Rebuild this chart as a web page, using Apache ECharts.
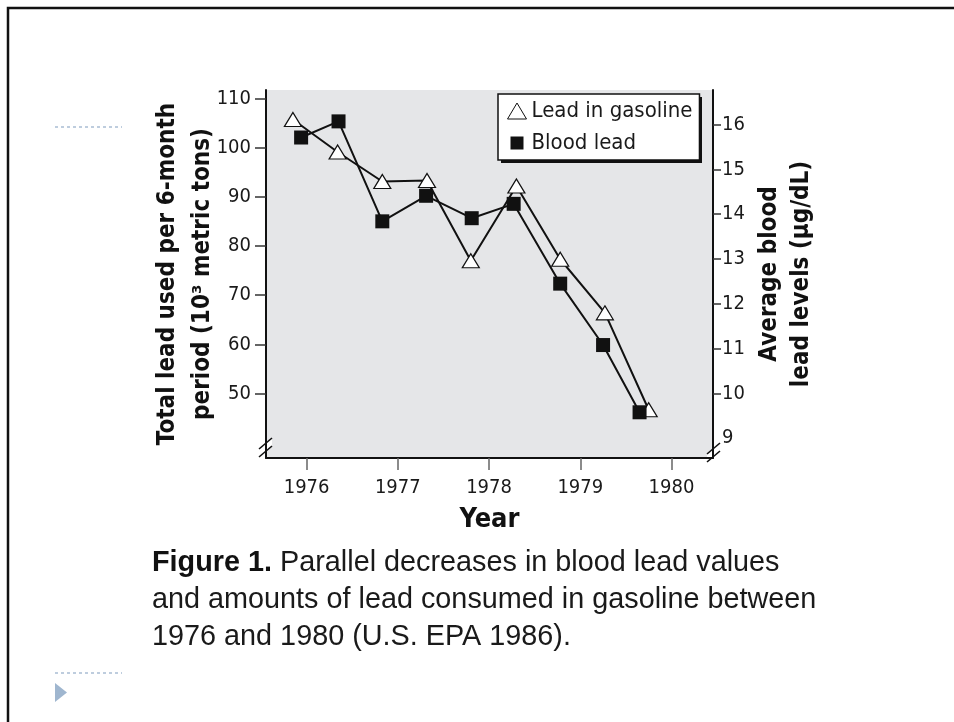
<!DOCTYPE html>
<html>
<head>
<meta charset="utf-8" />
<title>Lead in gasoline vs blood lead</title>
<script src="https://cdn.jsdelivr.net/npm/echarts@6/dist/echarts.min.js"></script>
<style>
  html,
  body {
    margin: 0;
    padding: 0;
    background: #fff;
  }
  #chart01 {
    width: 954px;
    height: 722px;
  }
</style>
</head>
<body>
<div id="chart01"></div>
<script>
// 数据
const gasYears = [1975.85, 1976.34, 1976.83, 1977.32, 1977.8, 1978.3, 1978.78, 1979.27, 1979.75];
const gasolineLead = [105.7, 99.1, 93.1, 93.3, 77.0, 92.2, 77.3, 66.4, 46.7];
const bloodYears = [1975.94, 1976.35, 1976.83, 1977.31, 1977.81, 1978.27, 1978.78, 1979.25, 1979.65];
const bloodLead = [15.71, 16.07, 13.84, 14.41, 13.91, 14.23, 12.45, 11.08, 9.58];
const yearTicks = [1976, 1977, 1978, 1979, 1980];
const leftTicks = [50, 60, 70, 80, 90, 100, 110];
const rightTicks = [10, 11, 12, 13, 14, 15, 16];
const rightLabels = [9, 10, 11, 12, 13, 14, 15, 16];

const narrow = '"DejaVu Sans Condensed", "Liberation Sans", sans-serif';
const regular = '"Liberation Sans", Arial, sans-serif';

// 断轴标记
function breakMark(x, y) {
  return {
    type: "group",
    x: x,
    y: y,
    silent: true,
    z: 10,
    children: [
      {
        type: "polygon",
        shape: { points: [[0, 8], [13, -3], [13, 5], [0, 16]] },
        style: { fill: "#fff" },
      },
      {
        type: "line",
        shape: { x1: 0, y1: 8, x2: 13, y2: -3 },
        style: { stroke: "#111", lineWidth: 1.6 },
      },
      {
        type: "line",
        shape: { x1: 0, y1: 16, x2: 13, y2: 5 },
        style: { stroke: "#111", lineWidth: 1.6 },
      },
    ],
  };
}

function getChartOption() {
  return {
    animation: false,
    textStyle: { fontFamily: narrow, color: "#1a1a1a" },
    grid: {
      left: 266,
      right: 241,
      top: 90,
      bottom: 264,
      show: true,
      backgroundColor: "#e5e6e8",
      borderWidth: 0,
    },
    legend: {
      orient: "vertical",
      left: 498,
      top: 94,
      padding: [6, 7, 6, 9],
      itemGap: 10,
      itemWidth: 19,
      itemHeight: 16,
      backgroundColor: "#fff",
      borderColor: "#111",
      borderWidth: 1.5,
      borderRadius: 0,
      z: 6,
      textStyle: { fontSize: 22, fontFamily: narrow, color: "#1a1a1a" },
      data: [
        { name: "Lead in gasoline", icon: "triangle", itemStyle: { borderWidth: 1 } },
        { name: "Blood lead", icon: "path://M0,0M16,16M1.5,1.5h13v13h-13z" },
      ],
    },
    xAxis: {
      type: "value",
      min: 1975.555,
      max: 1980.455,
      name: "Year",
      nameLocation: "middle",
      nameGap: 48,
      nameMoveOverlap: false,
      nameTextStyle: { fontSize: 27, fontWeight: "bold", fontFamily: narrow, color: "#111" },
      axisLine: { lineStyle: { color: "#111", width: 2 } },
      axisTick: {
        customValues: yearTicks,
        length: 12,
        lineStyle: { color: "#666", width: 1.5 },
      },
      axisLabel: {
        customValues: yearTicks,
        margin: 20,
        fontSize: 20,
        color: "#1a1a1a",
        formatter: (v) => String(v),
      },
      splitLine: { show: false },
    },
    yAxis: [
      {
        type: "value",
        position: "left",
        min: 36.9,
        max: 111.7,
        name: "Total lead used per 6-month\nperiod (10³ metric tons)",
        nameLocation: "middle",
        nameRotate: 90,
        nameGap: 46,
        nameMoveOverlap: false,
        nameTextStyle: {
          fontSize: 24,
          fontWeight: "bold",
          lineHeight: 35,
          fontFamily: narrow,
          color: "#111",
        },
        axisLine: { show: true, lineStyle: { color: "#111", width: 2 } },
        axisTick: {
          show: true,
          customValues: leftTicks,
          length: 11,
          lineStyle: { color: "#333", width: 1.5 },
        },
        axisLabel: {
          customValues: leftTicks,
          margin: 15,
          fontSize: 20,
          color: "#1a1a1a",
        },
        splitLine: { show: false },
      },
      {
        type: "value",
        position: "right",
        min: 8.56,
        max: 16.77,
        name: "Average blood\nlead levels (µg/dL)",
        nameLocation: "middle",
        nameRotate: 90,
        nameGap: 41,
        nameMoveOverlap: false,
        nameTextStyle: {
          fontSize: 24,
          fontWeight: "bold",
          lineHeight: 32,
          fontFamily: narrow,
          color: "#111",
        },
        axisLine: { show: true, lineStyle: { color: "#111", width: 2 } },
        axisTick: {
          show: true,
          customValues: rightTicks,
          length: 8,
          lineStyle: { color: "#333", width: 1.5 },
        },
        axisLabel: {
          customValues: rightLabels,
          margin: 9,
          fontSize: 20,
          color: "#1a1a1a",
        },
        splitLine: { show: false },
      },
    ],
    series: [
      {
        name: "Lead in gasoline",
        type: "line",
        yAxisIndex: 0,
        data: gasYears.map((x, i) => [x, gasolineLead[i]]),
        symbol: "triangle",
        symbolSize: [17, 14],
        lineStyle: { color: "#111", width: 2 },
        itemStyle: { color: "#fff", borderColor: "#111", borderWidth: 1.2 },
        z: 2,
      },
      {
        name: "Blood lead",
        type: "line",
        yAxisIndex: 1,
        data: bloodYears.map((x, i) => [x, bloodLead[i]]),
        symbol: "rect",
        symbolSize: 14,
        lineStyle: { color: "#111", width: 2 },
        itemStyle: { color: "#111", borderColor: "#111", borderWidth: 0 },
        z: 3,
      },
    ],
    graphic: [
      // 幻灯片边框
      {
        type: "polyline",
        silent: true,
        shape: { points: [[8, 722], [8, 8], [954, 8]] },
        style: { stroke: "#111", lineWidth: 2.5, fill: null },
      },
      {
        type: "line",
        silent: true,
        shape: { x1: 55, y1: 127, x2: 122, y2: 127 },
        style: { stroke: "#a9bdd3", lineWidth: 1.5, lineDash: [3, 3] },
      },
      {
        type: "line",
        silent: true,
        shape: { x1: 55, y1: 673, x2: 122, y2: 673 },
        style: { stroke: "#a9bdd3", lineWidth: 1.5, lineDash: [3, 3] },
      },
      {
        type: "polygon",
        silent: true,
        shape: { points: [[55, 683], [67, 692.5], [55, 702]] },
        style: { fill: "#9fb6cf" },
      },
      // 图例阴影
      {
        type: "rect",
        silent: true,
        z: 5,
        shape: { x: 501, y: 97, width: 201, height: 66 },
        style: { fill: "#111" },
      },
      breakMark(259, 441),
      breakMark(707, 446),
      // 图注
      {
        type: "text",
        left: 152,
        top: 545,
        silent: true,
        style: {
          text:
            "{b|Figure 1.} Parallel decreases in blood lead values\nand amounts of lead consumed in gasoline between\n1976 and 1980 (U.S. EPA 1986).",
          font: "28.8px " + regular,
          fill: "#1a1a1a",
          lineHeight: 37,
          rich: {
            b: { fontWeight: "bold", fontSize: 28.8, fontFamily: regular, fill: "#111" },
          },
        },
      },
    ],
  };
}

const chart = echarts.init(document.getElementById("chart01"));
chart.setOption(getChartOption());
</script>
</body>
</html>
